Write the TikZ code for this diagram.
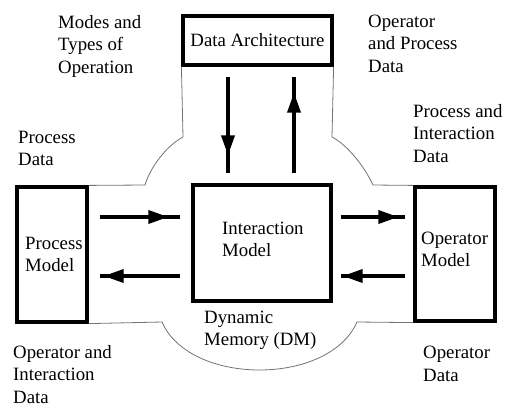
\documentclass[tikz,border=0pt]{standalone}
\usepackage{fontspec}
\setmainfont{Liberation Serif}
\usetikzlibrary{arrows.meta,decorations.markings}
\begin{document}
\begin{tikzpicture}[x=1pt,y=-1pt,
  txt/.style={font=\fontsize{18.8}{22.5}\selectfont},
  box/.style={draw, line width=3.2pt, inner sep=0pt, txt},
  lbl/.style={align=left, inner sep=0pt, anchor=base west, txt},
  flow/.style={line width=3.5pt},
  outline/.style={draw=black!55, line width=0.8pt},
  headat/.style={postaction={decorate}, decoration={markings, mark=at position #1 with {\arrow{Triangle[length=20pt,width=13pt]}}}}
]
\useasboundingbox (0,0) rectangle (505,407);

% boxes
\node[box, minimum width=149pt, minimum height=49pt] (da) at (257.5,40.5) {Data Architecture};
\node[box, minimum width=138pt, minimum height=116pt] (im) at (262,243) {};
\node[box, minimum width=70pt, minimum height=135pt] (pm) at (52,254.5) {};
\node[box, minimum width=80pt, minimum height=134pt] (om) at (455,254) {};

% outline of the dynamic memory
\draw[outline] (pm.north east) -- (145,185) .. controls (150,168) and (166,146) .. (183,137) -- (da.south west);
\draw[outline] (da.south east) -- (332,137) .. controls (349,146) and (365,168) .. (373,185) -- (om.north west);
\draw[outline] (pm.south east) -- (162,322) .. controls (190,386) and (329,386) .. (357,322) -- (om.south west);

% arrows
\draw[flow, headat=-18pt] ([xshift=-29.5pt,yshift=-10pt]da.south) -- ([xshift=-34pt,yshift=10pt]im.north);
\draw[flow, headat=-16pt] ([xshift=32pt,yshift=10pt]im.north) -- ([xshift=36.5pt,yshift=-10pt]da.south);
\draw[flow, headat=-12pt] ([xshift=11pt,yshift=37.5pt]pm.east) -- ([xshift=-11pt,yshift=26pt]im.west);
\draw[flow, headat=-4pt] ([xshift=-11pt,yshift=-33pt]im.west) -- ([xshift=11pt,yshift=-21.5pt]pm.east);
\draw[flow, headat=-7pt] ([xshift=8pt,yshift=26pt]im.east) -- ([xshift=-8pt,yshift=37pt]om.west);
\draw[flow, headat=-2pt] ([xshift=-8pt,yshift=-22pt]om.west) -- ([xshift=8pt,yshift=-33pt]im.east);

% labels (anchored at the baseline of their last line)
\node[lbl] (l1) at (58,73) {Modes and\\Types of\\Operation};
\node[lbl] (l2) at (368,72) {Operator\\and Process\\Data};
\node[lbl] (l3) at (413,162) {Process and\\Interaction\\Data};
\node[lbl] (l4) at (18,165.5) {Process\\Data};
\node[lbl] (l5) at (25,271.5) {Process\\Model};
\node[lbl] (l6) at (222,256.5) {Interaction\\Model};
\node[lbl] (l7) at (421,266.5) {Operator\\Model};
\node[lbl] (l8) at (204,345.5) {Dynamic\\Memory (DM)};
\node[lbl] (l9) at (13,403) {Operator and\\Interaction\\Data};
\node[lbl] (l10) at (423,381) {Operator\\Data};
\end{tikzpicture}
\end{document}
